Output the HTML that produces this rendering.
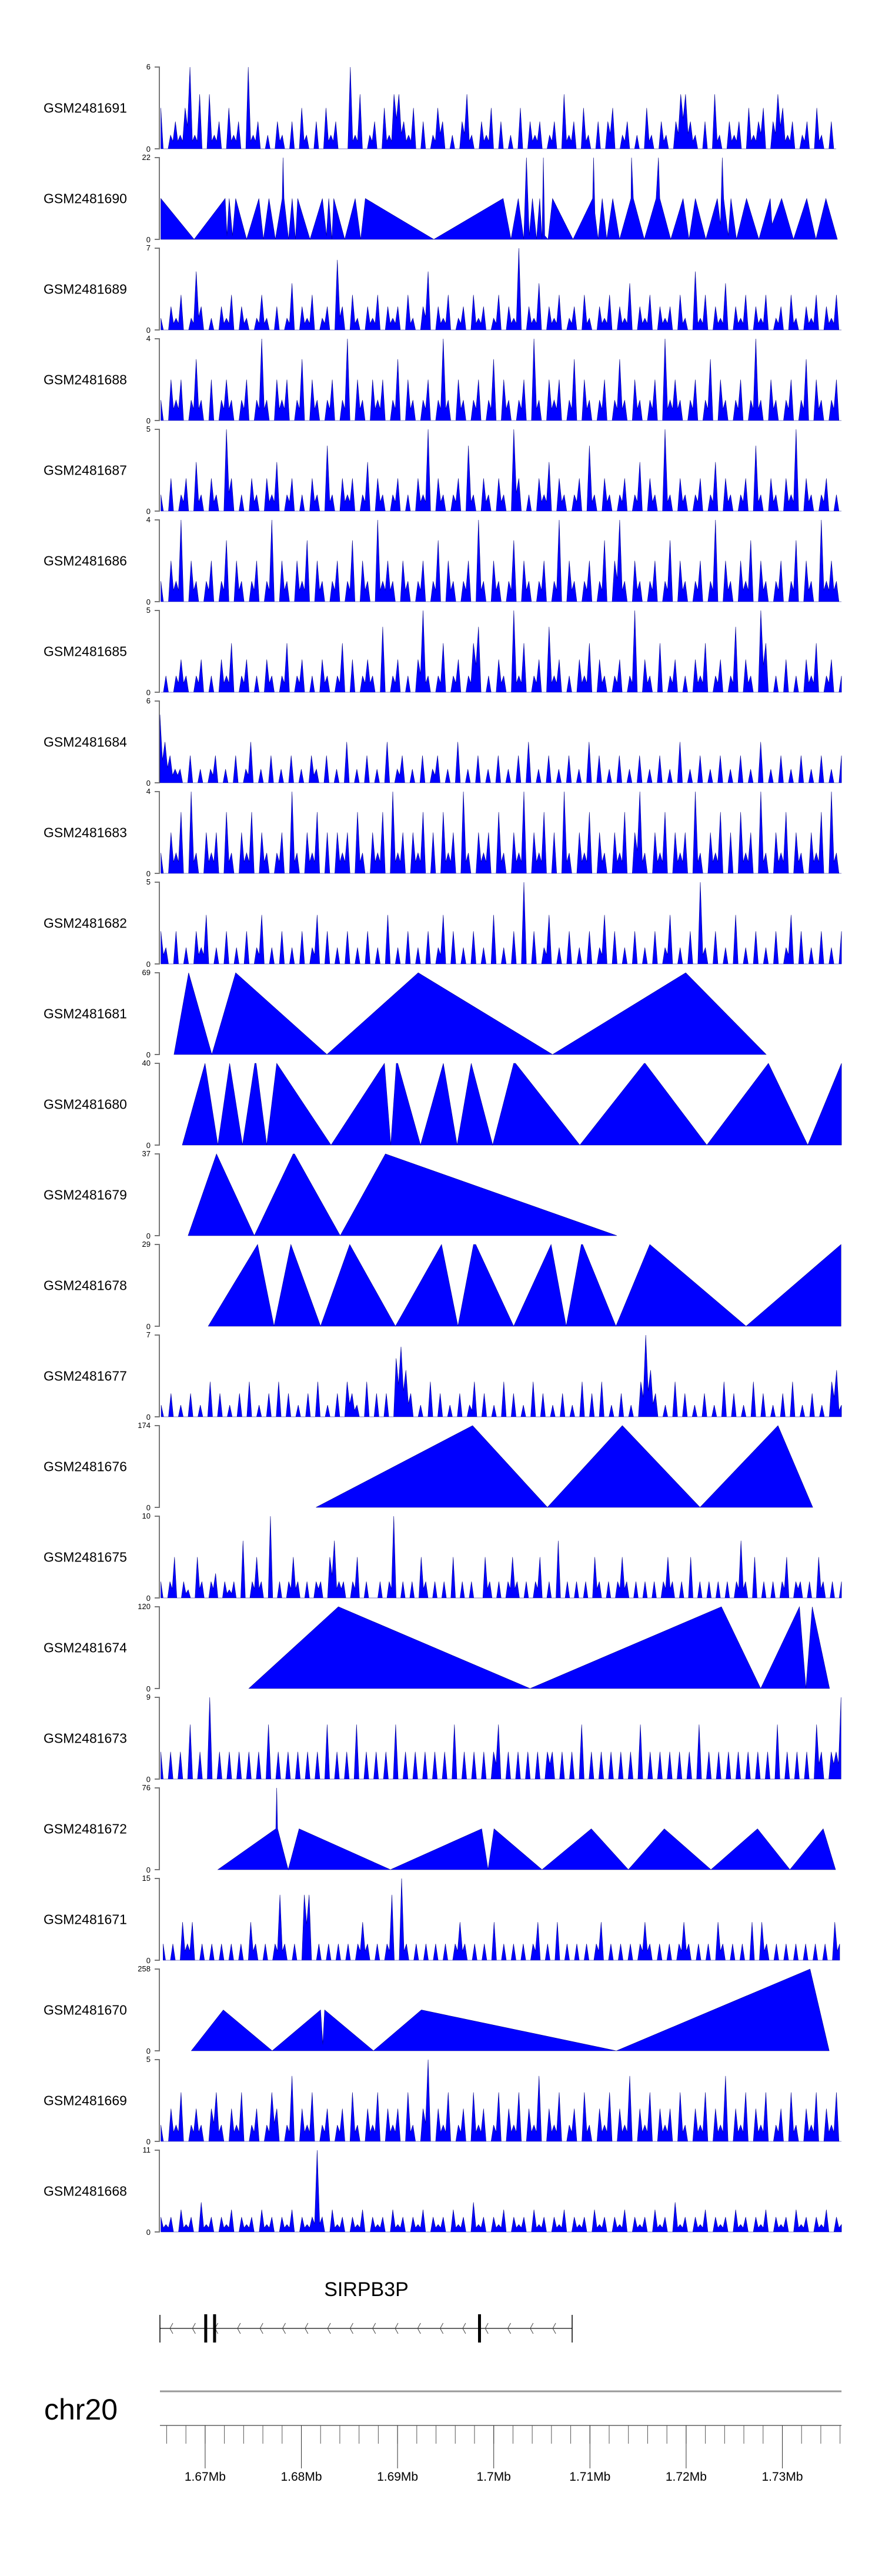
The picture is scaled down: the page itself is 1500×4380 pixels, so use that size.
<!DOCTYPE html>
<html><head><meta charset="utf-8"><title>Coverage tracks</title>
<style>
html,body{margin:0;padding:0;background:#fff;}
svg{display:block;font-family:"Liberation Sans",Arial,sans-serif;}
</style></head>
<body>
<svg id="chart" xmlns="http://www.w3.org/2000/svg" width="1500" height="4380" viewBox="0 0 1500 4380">
<rect x="0" y="0" width="1500" height="4380" fill="#fff"/>
<g id="tracks"></g>
<g id="gene">
  <text x="623" y="3904" font-size="34" text-anchor="middle" fill="#000">SIRPB3P</text>
</g>
<g id="axis">
  <text x="75" y="4114" font-size="50" fill="#000">chr20</text>
</g>
</svg>
<script>
// ---- track labels and y maxima ----
const trackNames = ["GSM2481691","GSM2481690","GSM2481689","GSM2481688","GSM2481687","GSM2481686","GSM2481685","GSM2481684","GSM2481683","GSM2481682","GSM2481681","GSM2481680","GSM2481679","GSM2481678","GSM2481677","GSM2481676","GSM2481675","GSM2481674","GSM2481673","GSM2481672","GSM2481671","GSM2481670","GSM2481669","GSM2481668"];
const trackMax = [6,22,7,4,5,4,5,6,4,5,69,40,37,29,7,174,10,120,9,76,15,258,5,11];

// ---- region (kb) ----
const regionStartKb = 1665.3;
const regionSpanKb = 70.85;
const majorTicksMb = [1.67,1.68,1.69,1.70,1.71,1.72,1.73];
const majorTickLabels = ["1.67Mb","1.68Mb","1.69Mb","1.7Mb","1.71Mb","1.72Mb","1.73Mb"];

// ---- piecewise (triangle) coverage tracks: positions in kb from region start ----
const pos690 = [0.09,3.55,6.78,6.97,7.20,7.54,7.87,9.01,10.29,10.76,11.33,12.00,12.71,12.80,12.90,13.37,13.75,14.09,14.32,15.60,16.89,17.31,17.55,17.88,18.07,19.21,20.30,20.87,21.35,28.47,35.68,36.49,37.25,37.82,38.10,38.39,38.72,39.15,39.48,39.72,39.86,40.00,40.34,40.81,42.94,44.98,45.08,45.22,45.55,45.98,46.45,47.07,47.78,48.97,49.02,49.21,50.35,51.58,51.82,51.96,53.10,54.38,55.00,55.66,56.75,57.94,58.27,58.46,58.60,59.08,59.36,59.93,60.98,62.26,63.44,63.63,64.63,65.86,67.24,68.19,69.23,70.42];
const val690 = [11,0,11,1,11,1,11,0,11,0,11,0,11,22,11,0,11,0,11,0,11,1,11,0,11,0,11,0,11,0,11,0,11,0,22,1,11,0,11,0,22,1,0,11,0,11,22,7,0,11,0,11,0,11,22,11,0,11,22,11,0,11,0,11,0,11,4,22,11,1,11,0,11,0,11,4,11,0,11,0,11,0];
const pos681 = [1.46,2.98,5.40,7.87,17.36,26.85,40.81,54.66,63.02];
const val681 = [0,69,0,69,0,69,0,69,0];
const pos680 = [2.32,4.69,6.02,7.25,8.58,9.86,10.00,11.10,12.14,17.79,23.34,24.00,24.57,24.72,27.09,29.46,30.89,32.36,34.59,36.77,36.96,43.65,50.34,50.44,56.85,63.25,67.34,70.85];
const val680 = [0,40,0,40,0,40,40,0,40,0,40,0,40,40,0,40,0,40,0,40,40,0,40,40,0,40,0,40];
const pos679 = [2.93,5.88,9.81,13.85,13.99,18.74,23.44,47.50];
const val679 = [0,37,0,37,37,0,37,0];
const pos678 = [5.02,10.15,11.86,13.61,16.70,19.73,24.48,29.27,30.98,32.60,32.83,36.77,40.66,42.23,43.80,43.94,47.40,50.92,60.93,70.80];
const val678 = [0,29,0,29,0,29,0,29,0,29,29,0,29,0,29,29,0,29,0,29];
const pos676 = [16.22,32.50,40.28,48.07,56.14,64.25,67.86];
const val676 = [0,174,0,174,0,174,0];
const pos674 = [9.24,18.55,38.48,58.37,62.45,66.48,67.15,67.81,69.61];
const val674 = [0,120,0,120,0,120,0,120,0];
const pos672 = [6.02,12.05,12.14,12.23,13.33,14.47,23.96,33.45,34.11,34.73,39.72,44.84,48.69,52.43,57.28,62.12,65.49,68.95,70.23];
const val672 = [0,38,76,38,0,38,0,38,0,38,0,38,0,38,0,38,0,38,0];
const pos670 = [3.26,6.59,11.67,16.70,16.93,17.12,22.20,27.18,47.45,67.58,69.57];
const val670 = [0,129,0,129,20,129,0,129,0,258,0];

// ---- dense coverage tracks: base-36 digit per bin, evenly spaced ----
const cov691 = "3012136140"+"4120312061"+"2010210203"+"1020312006"+"1401203144"+"2130201320"+"1024102130"+"2010302120"+"1204120310"+"2023012010"+"3102102442"+"1020410212"+"0312302431"+"2012031020";
const cov689 = "1021301520102130210131020140213012062031021302120310250213012031201302170214021301203102130214021302120310513021402130213012031021302130";
const cov688 = "1021201310201210120141021201302101201402102120130210120141021012013021012041021201302101201310210120412101201302101201410210120130210120";
const cov687 = "1020120310210520102102130120102104102120130210120102150210120410210210520102130210120410210120130210510210120130210120410210215021012010";
const cov686 = "1021402101201302101201402102130210120130210412102101201302101204102101302101201402101201302410210120130210120140210213021012013021041210";
const cov685 = "0101210120102130120102101301201021013020121040120102510130120134010210513012041201021302101201502103012010213012014021053010201021301201";
const cov684 = "5321102010120102013010201020102102010301020103012010201201030102010201020301020102010302010201020102010301020102010201030102010201020102";
const cov683 = "1021304102120310213021012041021302021203102130412021302031204102120310214021302041021302102130241021302120410213020312041021302102130410";
const cov682 = "2102010213010201020130102010201302010201020103010201020130201020103010205020130102010201302010201020130102051020103010201020130201020102";
const cov677 = "1020102010"+"3020102030"+"1020302010"+"2030102032"+"1030202056"+"4201030201"+"0201302010"+"3020103020"+"1020103020"+"3010201037"+"4201030201"+"0201030201"+"0302010203"+"0102010341";
const cov675 = "2025021052"+"0230212070"+"2520a02025"+"2020220572"+"2025020020"+"2a02020520"+"2020502020"+"0520202520"+"2025020702"+"0202052020"+"2520202020"+"2520205020"+"2020202720"+"5020202502"+"2020520202";
const cov673 = "3030306030"+"9030303030"+"3060303030"+"3030603030"+"6030303060"+"3030303030"+"6030303036"+"0303030303"+"3030306030"+"3030303060"+"3030303030"+"6030303030"+"3030306030"+"3030630339";
const cov671 = "3030737030"+"3030303073"+"0303c3030c"+"c030303030"+"3730303c0f"+"3030303030"+"3730303070"+"3030303703"+"0703030303"+"7030303037"+"3030303730"+"3030730303"+"0707303030"+"3030303073";
const cov669 = "1021301210231021301201320140213012012031021302120310250213012031201302130214021301203102130214021302120310213021402130213012031021302130";
const cov668 = "2120312041202130212031202130212b20312021302120312021302120312041202130212031202130212031202130212031204120213021203120213021203120213021";

// ---- gene model (kb from region start) ----
const geneStartKb = 0.0;
const geneEndKb = 42.85;
const exonKb = [4.76,5.68,33.22];

// ---------------- drawing ----------------
const NS = "http://www.w3.org/2000/svg";
const plotX0 = 272, pxPerKb = 16.36;
const trackTop0 = 114, trackPitch = 154, trackH = 139;
function xScale(kb){ return plotX0 + kb * pxPerKb; }
function yScale(v, top, max){ return top + trackH - (v / max) * trackH; }
function mk(tag, attrs, parent){
  const el = document.createElementNS(NS, tag);
  for (const k in attrs) el.setAttribute(k, attrs[k]);
  parent.appendChild(el);
  return el;
}
function parseCov(s){ return s.split('').map(c => parseInt(c, 36)); }

const tracksG = document.getElementById('tracks');
const pieceData = {
  "GSM2481690":[pos690,val690], "GSM2481681":[pos681,val681], "GSM2481680":[pos680,val680],
  "GSM2481679":[pos679,val679], "GSM2481678":[pos678,val678], "GSM2481676":[pos676,val676],
  "GSM2481674":[pos674,val674], "GSM2481672":[pos672,val672], "GSM2481670":[pos670,val670]
};
const denseData = {
  "GSM2481691":[cov691,0.09,70.3], "GSM2481689":[cov689,0.1,70.85], "GSM2481688":[cov688,0.1,70.85],
  "GSM2481687":[cov687,0.1,70.85], "GSM2481686":[cov686,0.1,70.85], "GSM2481685":[cov685,0.1,70.85],
  "GSM2481684":[cov684,0.0,70.85], "GSM2481683":[cov683,0.1,70.85], "GSM2481682":[cov682,0.1,70.85],
  "GSM2481677":[cov677,0.13,70.85], "GSM2481675":[cov675,0.09,70.85], "GSM2481673":[cov673,0.09,70.8],
  "GSM2481671":[cov671,0.33,70.66], "GSM2481669":[cov669,0.1,70.85], "GSM2481668":[cov668,0.1,70.85]
};

trackNames.forEach((name, i) => {
  const top = trackTop0 + i * trackPitch;
  const base = top + trackH;
  const max = trackMax[i];
  const g = mk('g', {}, tracksG);
  
  

  const lab = mk('text', {x: 74, y: top + trackH/2 + 8, 'font-size': 23, fill: '#000'}, g);
  
  
  lab.textContent = name;

  const ax = mk('path', {d: `M263,${top}H271V${base}H263`, fill: 'none', stroke: '#777', 'stroke-width': 2}, g);
  
  

  const tMax = mk('text', {x: 256, y: top + 4, 'font-size': 13, 'text-anchor': 'end', fill: '#000'}, g);
  
  
  tMax.textContent = String(max);
  const tMin = mk('text', {x: 256, y: base + 5, 'font-size': 13, 'text-anchor': 'end', fill: '#000'}, g);
  
  
  tMin.textContent = "0";

  let pts = [];
  if (pieceData[name]) {
    const [ps, vs] = pieceData[name];
    pts.push([xScale(ps[0]), base]);
    ps.forEach((p, k) => pts.push([xScale(p), yScale(vs[k], top, max)]));
    pts.push([xScale(ps[ps.length-1]), base]);
  } else {
    const [s, a, b] = denseData[name];
    const vals = parseCov(s);
    const step = (b - a) / (vals.length - 1);
    pts.push([xScale(a), base]);
    vals.forEach((v, k) => {
      const p = a + k*step;
      pts.push([xScale(p), yScale(v, top, max)]);
      if (k < vals.length - 1) {
        // valley between bins: partial fill gives the dense look of the reference
        const valley = Math.min(v, vals[k+1]) * 0.55;
        pts.push([xScale(p + step*0.5), yScale(valley, top, max)]);
      }
    });
    pts.push([xScale(b), base]);
  }
  const poly = mk('polygon', {points: pts.map(p => p[0].toFixed(1)+','+p[1].toFixed(1)).join(' '), fill: '#0000FF', stroke: '#00008B', 'stroke-width': 0.6, 'stroke-linejoin': 'miter'}, g);
  
  
});

// gene model
const geneG = document.getElementById('gene');
const gy = 3959, gx0 = xScale(geneStartKb), gx1 = xScale(geneEndKb);
const gl = mk('line', {x1: gx0, y1: gy, x2: gx1, y2: gy, stroke: '#333', 'stroke-width': 1.5}, geneG);


[gx0, gx1].forEach(x => {
  const e = mk('line', {x1: x, y1: gy-23, x2: x, y2: gy+24, stroke: '#000', 'stroke-width': 1.5}, geneG);
  
  
});
for (let x = gx0 + 17; x < gx1 - 4; x += 38.3) {
  const c = mk('polyline', {points: `${x+5},${gy-9} ${x},${gy} ${x+5},${gy+9}`, fill: 'none', stroke: '#444', 'stroke-width': 1}, geneG);
  
  
}
exonKb.forEach(k => {
  const ex = mk('rect', {x: xScale(k) - 2.5, y: gy - 24, width: 5, height: 48, fill: '#000'}, geneG);
  
  
});

// genome axis
const axG = document.getElementById('axis');
const axEnd = xScale(regionSpanKb);
const sep = mk('line', {x1: plotX0, y1: 4066, x2: axEnd, y2: 4066, stroke: '#999', 'stroke-width': 3}, axG);


const al = mk('line', {x1: plotX0, y1: 4124, x2: axEnd, y2: 4124, stroke: '#888', 'stroke-width': 2}, axG);


for (let kb = 1666; kb <= regionStartKb + regionSpanKb; kb += 2) {
  const t = mk('line', {x1: xScale(kb - regionStartKb), y1: 4124, x2: xScale(kb - regionStartKb), y2: 4155, stroke: '#555', 'stroke-width': 1}, axG);
  
  
}
majorTicksMb.forEach((mb, k) => {
  const x = xScale(mb*1000 - regionStartKb);
  const t = mk('line', {x1: x, y1: 4124, x2: x, y2: 4197, stroke: '#333', 'stroke-width': 1}, axG);
  
  
  const l = mk('text', {x: x, y: 4218, 'font-size': 21, 'text-anchor': 'middle', fill: '#000'}, axG);
  
  
  l.textContent = majorTickLabels[k];
});
</script>
</body></html>
